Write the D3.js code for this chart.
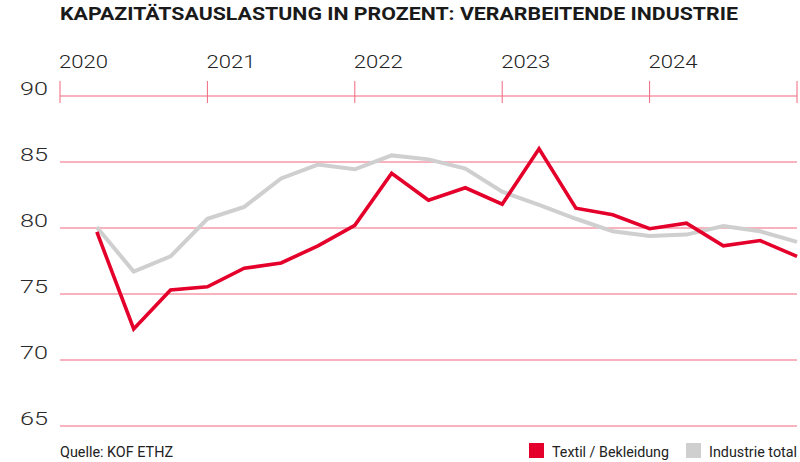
<!DOCTYPE html>
<html><head><meta charset="utf-8">
<script src="https://cdn.jsdelivr.net/npm/d3@7"></script>
<style>
html,body{margin:0;padding:0;background:#fff;}
svg{display:block;font-family:Roboto, "Liberation Sans", sans-serif;}
</style></head>
<body>
<svg id="c" width="800" height="462"></svg>
<script>
const quarters = ["2020Q1","2020Q2","2020Q3","2020Q4","2021Q1","2021Q2","2021Q3","2021Q4","2022Q1","2022Q2","2022Q3","2022Q4","2023Q1","2023Q2","2023Q3","2023Q4","2024Q1","2024Q2","2024Q3","2024Q4"];
const textil = [79.7,72.35,75.3,75.55,76.95,77.35,78.65,80.2,84.15,82.1,83.05,81.8,86.0,81.5,81.0,79.95,80.37,78.65,79.05,77.85];
const industrie = [80.05,76.7,77.85,80.7,81.6,83.75,84.8,84.45,85.5,85.2,84.5,82.75,81.75,80.7,79.75,79.4,79.5,80.15,79.75,78.95];
const yearTicks = [2020,2021,2022,2023,2024,2025];
const yearLabels = ["2020","2021","2022","2023","2024"];
const yTicks = [65,70,75,80,85,90];
const seriesNames = ["Textil / Bekleidung","Industrie total"];
const colors = ["#e4002b","#cfcfcf"];

const svg = d3.select("#c");
const x = d3.scaleLinear().domain([2020,2025]).range([60,797]);
const y = d3.scaleLinear().domain([65,90]).range([426,96]);
const qx = (i) => x(2020 + (i+1)/4);

// title
svg.append("text").attr("x",60).attr("y",20).attr("font-size",17.5).attr("font-weight",700)
  .attr("fill","#1a1a1a").attr("textLength",678).attr("lengthAdjust","spacingAndGlyphs")
  .text("KAPAZITÄTSAUSLASTUNG IN PROZENT: VERARBEITENDE INDUSTRIE");

const grid = "#f0677f";
svg.append("g").selectAll("line").data(yTicks).join("line")
  .attr("x1",60).attr("x2",797).attr("y1",d=>y(d)).attr("y2",d=>y(d))
  .attr("stroke",grid).attr("stroke-width",1);
svg.append("g").selectAll("text").data(yTicks).join("text")
  .attr("x",48).attr("y",d=>y(d)-1).attr("text-anchor","end")
  .attr("font-size",19).attr("font-weight",300).attr("fill","#2a2a2a")
  .attr("textLength",28).attr("lengthAdjust","spacingAndGlyphs").text(d=>d);
svg.append("g").selectAll("line").data(yearTicks).join("line")
  .attr("x1",d=>x(d)).attr("x2",d=>x(d)).attr("y1",y(90)-15).attr("y2",y(90)+7)
  .attr("stroke",grid).attr("stroke-width",1);
svg.append("g").selectAll("text").data(yearLabels).join("text")
  .attr("x",(d,i)=>x(yearTicks[i])-1).attr("y",68)
  .attr("font-size",19).attr("font-weight",300).attr("fill","#222")
  .attr("textLength",49).attr("lengthAdjust","spacingAndGlyphs").text(d=>d);

const line = d3.line().x((d,i)=>qx(i)).y(d=>y(d));
svg.append("path").datum(industrie).attr("d",line).attr("fill","none")
  .attr("stroke",colors[1]).attr("stroke-width",4).attr("stroke-linejoin","miter");
svg.append("path").datum(textil).attr("d",line).attr("fill","none")
  .attr("stroke",colors[0]).attr("stroke-width",3.6).attr("stroke-linejoin","miter");

svg.append("text").attr("x",60).attr("y",457).attr("font-size",14).attr("fill","#222")
  .attr("textLength",113).attr("lengthAdjust","spacingAndGlyphs").text("Quelle: KOF ETHZ");
const lx = [529,686];
const lw = [117,88];
seriesNames.forEach((n,i)=>{
  svg.append("rect").attr("x",lx[i]).attr("y",443).attr("width",15).attr("height",15).attr("fill",colors[i]);
  svg.append("text").attr("x",lx[i]+(i===0?23:23)).attr("y",457).attr("font-size",14).attr("fill","#222")
    .attr("textLength",lw[i]).attr("lengthAdjust","spacingAndGlyphs").text(n);
});
</script>
</body></html>
